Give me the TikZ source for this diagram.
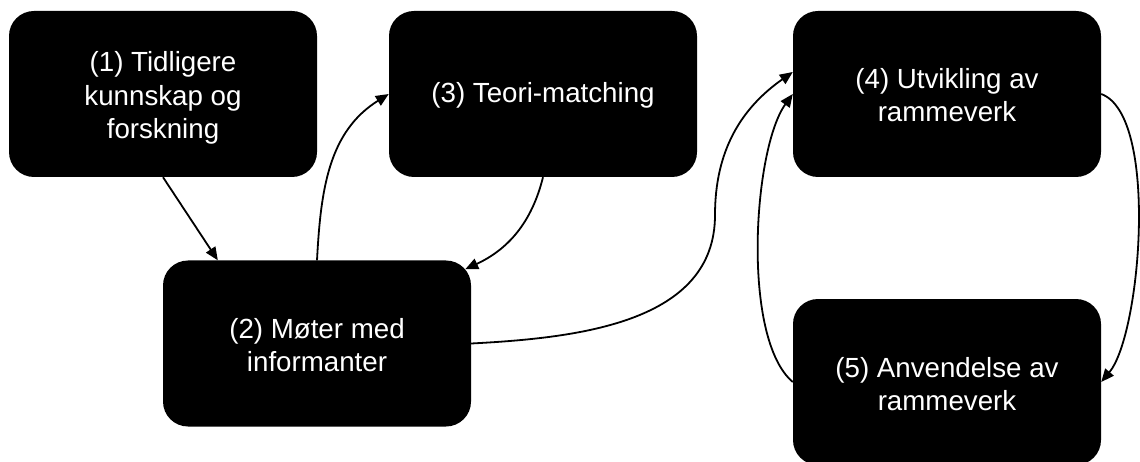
\documentclass[tikz,border=0pt]{standalone}
\usepackage{fontspec}
\setmainfont{Liberation Sans}
\usetikzlibrary{arrows.meta}
\begin{document}
\begin{tikzpicture}[x=1pt,y=-1pt,
  box/.style={fill=black, text=white, rounded corners=25pt,
    minimum width=308pt, minimum height=166pt, align=center,
    font=\fontsize{27.7}{33.2}\selectfont, inner sep=0pt},
  conn/.style={line width=1.8pt, -{Triangle[length=13pt,width=11pt]}}]
\useasboundingbox (0,0) rectangle (1140,462);
\node[box] (n1) at (163,94) {\rule{0pt}{28pt}(1) Tidligere\\kunnskap og\\forskning};
\node[box] (n3) at (543,94) {\rule{0pt}{22pt}(3) Teori-matching};
\node[box] (n4) at (947,94) {\rule{0pt}{22pt}(4) Utvikling av\\rammeverk};
\node[box] (n2) at (317,343.5) {\rule{0pt}{24pt}(2) Møter med\\informanter};
\node[box] (n5) at (947,382) {\rule{0pt}{25pt}(5) Anvendelse av\\rammeverk};
\coordinate (m) at (715,215);
% connectors
\draw[conn] (n1.south) -- ([xshift=55pt]n2.north west);
\draw[conn] (n2.north) to[out=87,in=212] (n3.west);
\draw[conn] (n3.south) to[out=-104,in=25] ([xshift=-6pt,yshift=-9pt]n2.north east);
\draw[conn] (n2.east) to[out=3,in=-90] (m) to[out=90,in=215] ([yshift=22pt]n4.west);
\draw[conn] (n5.west) to[out=140,in=234,looseness=0.6] (n4.west);
\draw[conn] (n4.east) to[out=-20,in=50,looseness=0.55] (n5.east);
\end{tikzpicture}
\end{document}
